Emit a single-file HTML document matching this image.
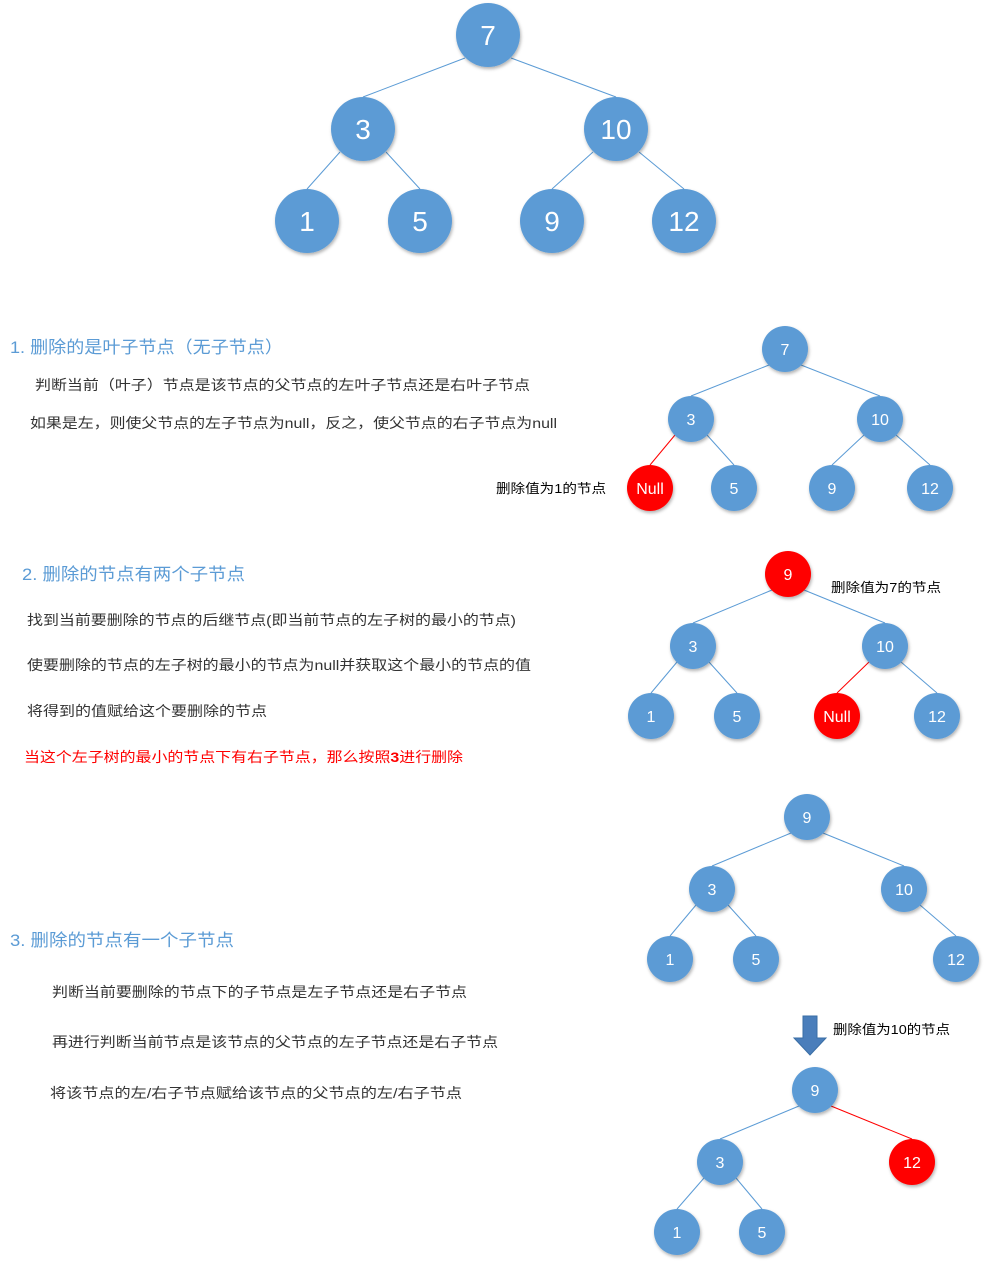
<!DOCTYPE html>
<html><head><meta charset="utf-8"><style>
html,body{margin:0;padding:0;background:#fff;}
svg{display:block;}
text{font-family:"Liberation Sans","Noto Sans CJK SC",sans-serif;}
.n{fill:#5b9bd5;}
.r{fill:#ff0000;}
.e{stroke:#5b9bd5;stroke-width:1;}
.er{stroke:#ff0000;stroke-width:1;}
.h{fill:#5b9bd5;font-size:17px;}
.t{fill:#333;font-size:14px;}
.lbl{fill:#000;font-size:13px;}
</style></head><body>
<svg width="986" height="1265" viewBox="0 0 986 1265" xmlns="http://www.w3.org/2000/svg">
<defs><filter id="s" x="-30%" y="-30%" width="160%" height="160%"><feDropShadow dx="1" dy="2" stdDeviation="1.5" flood-color="#000" flood-opacity="0.3"/></filter></defs>

<g class="e">
<line x1="465" y1="58" x2="363" y2="97"/><line x1="511" y1="58" x2="616" y2="97"/>
<line x1="340" y1="152" x2="307" y2="189"/><line x1="386" y1="152" x2="420" y2="189"/>
<line x1="593" y1="152" x2="552" y2="189"/><line x1="639" y1="152" x2="684" y2="189"/>
</g>
<g filter="url(#s)" class="n">
<circle cx="488" cy="35" r="32"/><circle cx="363" cy="129" r="32"/><circle cx="616" cy="129" r="32"/>
<circle cx="307" cy="221" r="32"/><circle cx="420" cy="221" r="32"/><circle cx="552" cy="221" r="32"/><circle cx="684" cy="221" r="32"/>
</g>
<g fill="#fff" font-size="28" text-anchor="middle">
<text x="488" y="45">7</text><text x="363" y="139">3</text><text x="616" y="139">10</text>
<text x="307" y="231">1</text><text x="420" y="231">5</text><text x="552" y="231">9</text><text x="684" y="231">12</text>
</g>

<text class="h" x="10" y="353" textLength="273" lengthAdjust="spacingAndGlyphs">1. 删除的是叶子节点（无子节点）</text>
<text class="t" x="35" y="390" textLength="495" lengthAdjust="spacingAndGlyphs">判断当前（叶子）节点是该节点的父节点的左叶子节点还是右叶子节点</text>
<text class="t" x="30" y="428" textLength="527" lengthAdjust="spacingAndGlyphs">如果是左，则使父节点的左子节点为null，反之，使父节点的右子节点为null</text>
<text class="lbl" x="496" y="493" textLength="110" lengthAdjust="spacingAndGlyphs">删除值为1的节点</text>

<g class="e">
<line x1="769" y1="365" x2="691" y2="396"/><line x1="801" y1="365" x2="880" y2="396"/>
<line x1="707" y1="435" x2="734" y2="465"/>
<line x1="864" y1="435" x2="832" y2="465"/><line x1="896" y1="435" x2="930" y2="465"/>
</g>
<line class="er" x1="675" y1="435" x2="650" y2="465"/>
<g filter="url(#s)">
<circle class="n" cx="785" cy="349" r="23"/><circle class="n" cx="691" cy="419" r="23"/><circle class="n" cx="880" cy="419" r="23"/>
<circle class="r" cx="650" cy="488" r="23"/><circle class="n" cx="734" cy="488" r="23"/><circle class="n" cx="832" cy="488" r="23"/><circle class="n" cx="930" cy="488" r="23"/>
</g>
<g fill="#fff" font-size="16" text-anchor="middle">
<text x="785" y="355">7</text><text x="691" y="425">3</text><text x="880" y="425">10</text>
<text x="650" y="494">Null</text><text x="734" y="494">5</text><text x="832" y="494">9</text><text x="930" y="494">12</text>
</g>

<text class="h" x="22" y="580" textLength="223" lengthAdjust="spacingAndGlyphs">2. 删除的节点有两个子节点</text>
<text class="t" x="27" y="625" textLength="489" lengthAdjust="spacingAndGlyphs">找到当前要删除的节点的后继节点(即当前节点的左子树的最小的节点)</text>
<text class="t" x="27" y="670" textLength="504" lengthAdjust="spacingAndGlyphs">使要删除的节点的左子树的最小的节点为null并获取这个最小的节点的值</text>
<text class="t" x="27" y="716" textLength="240" lengthAdjust="spacingAndGlyphs">将得到的值赋给这个要删除的节点</text>
<text x="24" y="762" font-size="14" fill="#ff0000" textLength="439" lengthAdjust="spacingAndGlyphs">当这个左子树的最小的节点下有右子节点，那么按照<tspan font-weight="bold">3</tspan>进行删除</text>
<text class="lbl" x="831" y="592" textLength="110" lengthAdjust="spacingAndGlyphs">删除值为7的节点</text>

<g class="e">
<line x1="772" y1="590" x2="693" y2="623"/><line x1="804" y1="590" x2="885" y2="623"/>
<line x1="677" y1="662" x2="651" y2="693"/><line x1="709" y1="662" x2="737" y2="693"/>
<line x1="901" y1="662" x2="937" y2="693"/>
</g>
<line class="er" x1="869" y1="662" x2="837" y2="693"/>
<g filter="url(#s)">
<circle class="r" cx="788" cy="574" r="23"/><circle class="n" cx="693" cy="646" r="23"/><circle class="n" cx="885" cy="646" r="23"/>
<circle class="n" cx="651" cy="716" r="23"/><circle class="n" cx="737" cy="716" r="23"/><circle class="r" cx="837" cy="716" r="23"/><circle class="n" cx="937" cy="716" r="23"/>
</g>
<g fill="#fff" font-size="16" text-anchor="middle">
<text x="788" y="580">9</text><text x="693" y="652">3</text><text x="885" y="652">10</text>
<text x="651" y="722">1</text><text x="737" y="722">5</text><text x="837" y="722">Null</text><text x="937" y="722">12</text>
</g>

<g class="e">
<line x1="791" y1="833" x2="712" y2="866"/><line x1="823" y1="833" x2="904" y2="866"/>
<line x1="696" y1="905" x2="670" y2="936"/><line x1="728" y1="905" x2="756" y2="936"/>
<line x1="920" y1="905" x2="956" y2="936"/>
</g>
<g filter="url(#s)" class="n">
<circle cx="807" cy="817" r="23"/><circle cx="712" cy="889" r="23"/><circle cx="904" cy="889" r="23"/>
<circle cx="670" cy="959" r="23"/><circle cx="756" cy="959" r="23"/><circle cx="956" cy="959" r="23"/>
</g>
<g fill="#fff" font-size="16" text-anchor="middle">
<text x="807" y="823">9</text><text x="712" y="895">3</text><text x="904" y="895">10</text>
<text x="670" y="965">1</text><text x="756" y="965">5</text><text x="956" y="965">12</text>
</g>

<text class="h" x="10" y="946" textLength="224" lengthAdjust="spacingAndGlyphs">3. 删除的节点有一个子节点</text>
<text class="t" x="52" y="997" textLength="415" lengthAdjust="spacingAndGlyphs">判断当前要删除的节点下的子节点是左子节点还是右子节点</text>
<text class="t" x="52" y="1047" textLength="446" lengthAdjust="spacingAndGlyphs">再进行判断当前节点是该节点的父节点的左子节点还是右子节点</text>
<text class="t" x="50" y="1098" textLength="412" lengthAdjust="spacingAndGlyphs">将该节点的左/右子节点赋给该节点的父节点的左/右子节点</text>

<polygon points="803,1016 817,1016 817,1038 826,1038 810,1055 794,1038 803,1038" fill="#4a7ebb" stroke="#3a6ea5" stroke-width="1"/>
<text class="lbl" x="833" y="1034" textLength="117" lengthAdjust="spacingAndGlyphs">删除值为10的节点</text>

<g class="e">
<line x1="799" y1="1106" x2="720" y2="1139"/>
<line x1="704" y1="1178" x2="677" y2="1209"/><line x1="736" y1="1178" x2="762" y2="1209"/>
</g>
<line class="er" x1="831" y1="1106" x2="912" y2="1139"/>
<g filter="url(#s)">
<circle class="n" cx="815" cy="1090" r="23"/><circle class="n" cx="720" cy="1162" r="23"/><circle class="r" cx="912" cy="1162" r="23"/>
<circle class="n" cx="677" cy="1232" r="23"/><circle class="n" cx="762" cy="1232" r="23"/>
</g>
<g fill="#fff" font-size="16" text-anchor="middle">
<text x="815" y="1096">9</text><text x="720" y="1168">3</text><text x="912" y="1168">12</text>
<text x="677" y="1238">1</text><text x="762" y="1238">5</text>
</g>
</svg>
</body></html>
